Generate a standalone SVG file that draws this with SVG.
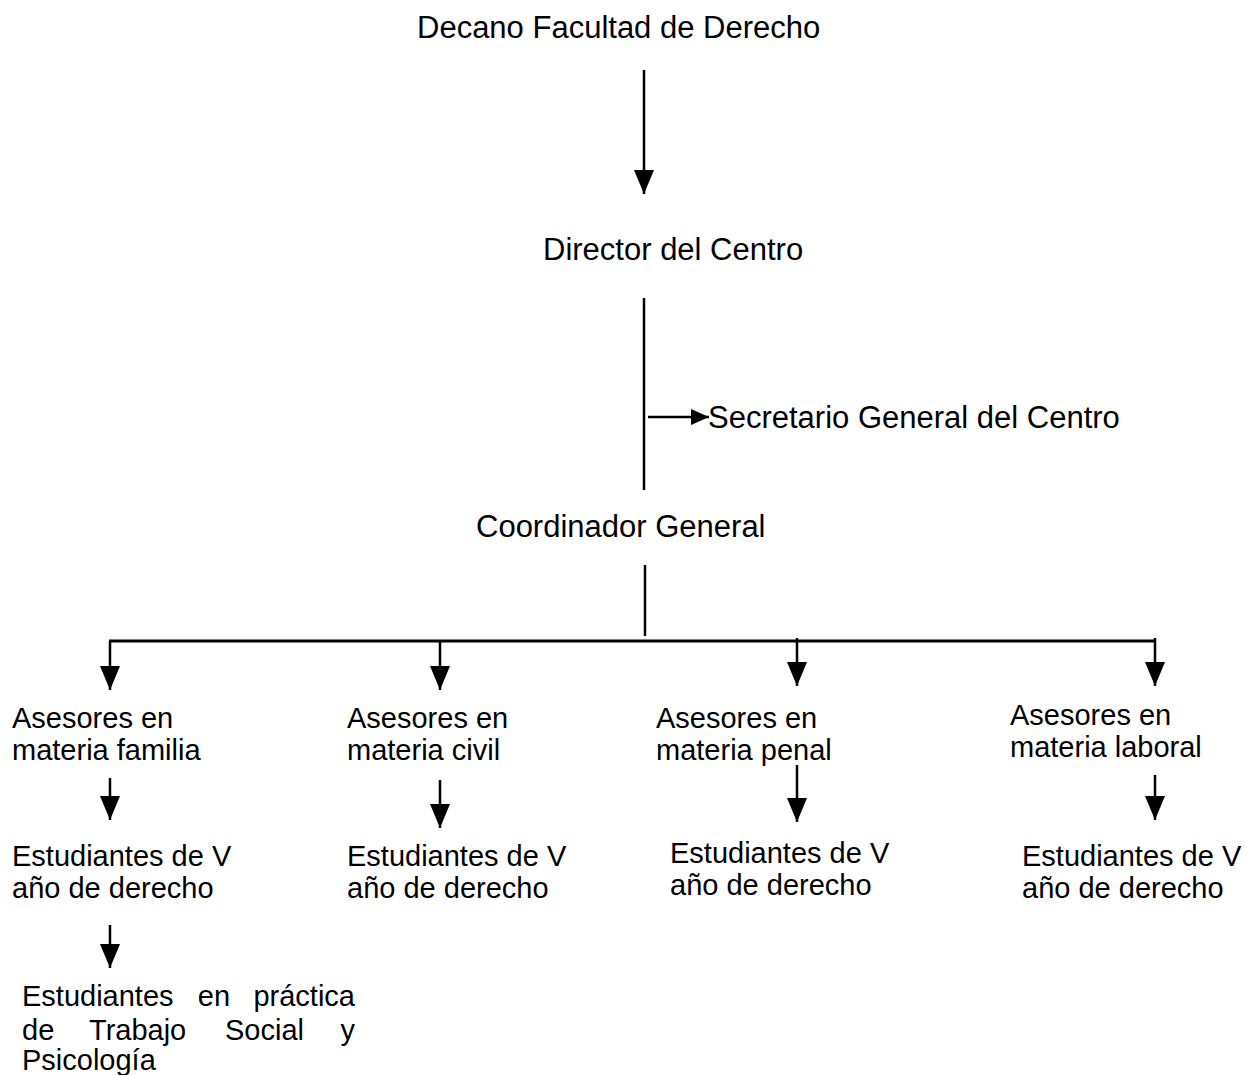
<svg xmlns="http://www.w3.org/2000/svg" width="1246" height="1075" viewBox="0 0 1246 1075">
<style>
text{font-family:"Liberation Sans",Arial,sans-serif;font-size:29px;fill:#000}
.big{font-size:31px}
.ln{stroke:#000;stroke-width:2.5;fill:none}
</style>
<defs>
<marker id="ah" viewBox="0 0 24 20" refX="24" refY="10" markerWidth="24" markerHeight="20" orient="auto" markerUnits="userSpaceOnUse"><path d="M0,0 L24,10 L0,20 z" fill="#000"/></marker>
<marker id="ahs" viewBox="0 0 18 16" refX="18" refY="8" markerWidth="18" markerHeight="16" orient="auto" markerUnits="userSpaceOnUse"><path d="M0,0 L18,8 L0,16 z" fill="#000"/></marker>
</defs>
<rect width="1246" height="1075" fill="#fff"/>
<g id="connectors">
<line class="ln" x1="644" y1="70" x2="644" y2="194" marker-end="url(#ah)"/>
<line class="ln" x1="644" y1="298" x2="644" y2="490"/>
<line class="ln" x1="648" y1="417" x2="709" y2="417" marker-end="url(#ahs)"/>
<line class="ln" x1="645" y1="565" x2="645" y2="636"/>
<line class="ln" x1="109" y1="641" x2="1156" y2="641" style="stroke-width:3"/>
<line class="ln" x1="110" y1="641" x2="110" y2="690" marker-end="url(#ah)"/>
<line class="ln" x1="440" y1="641" x2="440" y2="690" marker-end="url(#ah)"/>
<line class="ln" x1="797" y1="638" x2="797" y2="686" marker-end="url(#ah)"/>
<line class="ln" x1="1155" y1="638" x2="1155" y2="686" marker-end="url(#ah)"/>
<line class="ln" x1="110" y1="778" x2="110" y2="820" marker-end="url(#ah)"/>
<line class="ln" x1="440" y1="780" x2="440" y2="828" marker-end="url(#ah)"/>
<line class="ln" x1="797" y1="765" x2="797" y2="822" marker-end="url(#ah)"/>
<line class="ln" x1="1155" y1="775" x2="1155" y2="820" marker-end="url(#ah)"/>
<line class="ln" x1="110" y1="925" x2="110" y2="968" marker-end="url(#ah)"/>
</g>
<g id="decano"><text class="big" x="417" y="38">Decano Facultad de Derecho</text></g>
<g id="director"><text class="big" x="543" y="260">Director del Centro</text></g>
<g id="secretario"><text class="big" x="708" y="428">Secretario General del Centro</text></g>
<g id="coordinador"><text class="big" x="476" y="537">Coordinador General</text></g>
<g id="asesores-familia"><text x="12" y="728">Asesores en</text><text x="12" y="760">materia familia</text></g>
<g id="asesores-civil"><text x="347" y="728">Asesores en</text><text x="347" y="760">materia civil</text></g>
<g id="asesores-penal"><text x="656" y="728">Asesores en</text><text x="656" y="760">materia penal</text></g>
<g id="asesores-laboral"><text x="1010" y="725">Asesores en</text><text x="1010" y="757">materia laboral</text></g>
<g id="estudiantes-familia"><text x="12" y="866">Estudiantes de V</text><text x="12" y="898">año de derecho</text></g>
<g id="estudiantes-civil"><text x="347" y="866">Estudiantes de V</text><text x="347" y="898">año de derecho</text></g>
<g id="estudiantes-penal"><text x="670" y="863">Estudiantes de V</text><text x="670" y="895">año de derecho</text></g>
<g id="estudiantes-laboral"><text x="1022" y="866">Estudiantes de V</text><text x="1022" y="898">año de derecho</text></g>
<g id="estudiantes-practica">
<text x="22" y="1006">Estudiantes</text><text x="214" y="1006" text-anchor="middle">en</text><text x="355" y="1006" text-anchor="end">práctica</text>
<text x="22" y="1040">de</text><text x="89" y="1040">Trabajo</text><text x="225" y="1040">Social</text><text x="355" y="1040" text-anchor="end">y</text>
<text x="22" y="1070">Psicología</text>
</g>
</svg>
